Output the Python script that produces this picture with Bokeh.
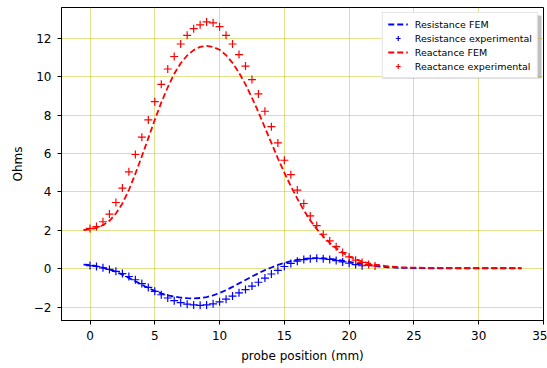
from bokeh.plotting import figure
from bokeh.models import FixedTicker, Legend, LegendItem, BoxAnnotation
from bokeh.embed import file_html
from bokeh.resources import INLINE

# ---- data ----
x_fem = [-0.5, 0.0, 0.5, 1.0, 1.5, 2.0, 2.5, 3.0, 3.5, 4.0, 4.5, 5.0, 5.5, 6.0, 6.5,
         7.0, 7.5, 8.0, 8.5, 9.0, 9.5, 10.0, 10.5, 11.0, 11.5, 12.0, 12.5, 13.0, 13.5,
         14.0, 14.5, 15.0, 15.5, 16.0, 16.5, 17.0, 17.5, 18.0, 18.5, 19.0, 19.5, 20.0,
         20.5, 21.0, 21.5, 22.0, 23.0, 24.0, 25.0, 26.0, 27.0, 28.0, 29.0, 30.0, 31.0,
         32.0, 33.3]

resistance_fem = [0.22, 0.20, 0.14, 0.06, -0.03, -0.15, -0.30, -0.47, -0.65, -0.83, -1.00,
                  -1.15, -1.28, -1.38, -1.45, -1.50, -1.53, -1.54, -1.52, -1.47, -1.38,
                  -1.26, -1.11, -0.94, -0.76, -0.58, -0.40, -0.23, -0.07, 0.07, 0.20,
                  0.31, 0.40, 0.47, 0.52, 0.55, 0.56, 0.55, 0.52, 0.48, 0.42, 0.36,
                  0.30, 0.24, 0.19, 0.14, 0.08, 0.05, 0.04, 0.03, 0.03, 0.03, 0.03,
                  0.03, 0.03, 0.03, 0.03]

reactance_fem = [2.02, 2.05, 2.13, 2.27, 2.50, 2.88, 3.40, 4.10, 4.95, 5.85, 6.80,
                 7.75, 8.65, 9.45, 10.15, 10.70, 11.10, 11.38, 11.55, 11.60, 11.55,
                 11.40, 11.12, 10.72, 10.20, 9.60, 8.90, 8.15, 7.35, 6.55, 5.75,
                 5.00, 4.30, 3.65, 3.05, 2.52, 2.07, 1.68, 1.35, 1.07, 0.84, 0.65,
                 0.50, 0.38, 0.29, 0.22, 0.13, 0.08, 0.06, 0.05, 0.05, 0.04, 0.04,
                 0.04, 0.04, 0.04, 0.04]

x_res_exp = [0.0, 0.5, 1.0, 1.5, 2.0, 2.5, 3.0, 3.5, 4.0, 4.5, 5.0, 5.5, 6.0, 6.5, 7.0,
             7.5, 8.0, 8.5, 9.0, 9.5, 10.0, 10.5, 11.0, 11.5, 12.0, 12.5, 13.0, 13.5,
             14.0, 14.5, 15.0, 15.5, 16.0, 16.5, 17.0, 17.5, 18.0, 18.5, 19.0, 19.5,
             20.0, 20.5, 21.0]
resistance_exp = [0.17, 0.12, 0.05, -0.03, -0.13, -0.25, -0.40, -0.57, -0.77, -0.97,
                  -1.17, -1.35, -1.52, -1.66, -1.76, -1.84, -1.88, -1.90, -1.88, -1.82,
                  -1.72, -1.58, -1.42, -1.25, -1.08, -0.90, -0.70, -0.48, -0.27, -0.08,
                  0.12, 0.28, 0.40, 0.48, 0.53, 0.55, 0.53, 0.49, 0.43, 0.36, 0.29,
                  0.22, 0.16]

x_rea_exp = [0.0, 0.5, 1.0, 1.5, 2.0, 2.5, 3.0, 3.5, 4.0, 4.5, 5.0, 5.5, 6.0, 6.5, 7.0,
             7.5, 8.0, 8.5, 9.0, 9.5, 10.0, 10.5, 11.0, 11.5, 12.0, 12.5, 13.0, 13.5,
             14.0, 14.5, 15.0, 15.5, 16.0, 16.5, 17.0, 17.5, 18.0, 18.5, 19.0, 19.5,
             20.0, 20.5, 21.0, 21.5, 22.0]
reactance_exp = [2.10, 2.20, 2.45, 2.85, 3.45, 4.20, 5.05, 5.95, 6.85, 7.75, 8.70,
                 9.60, 10.40, 11.05, 11.70, 12.15, 12.50, 12.70, 12.85, 12.80, 12.60,
                 12.15, 11.70, 11.15, 10.55, 9.85, 9.10, 8.20, 7.40, 6.55, 5.65, 4.90,
                 4.10, 3.40, 2.75, 2.25, 1.80, 1.45, 1.15, 0.85, 0.62, 0.45, 0.33,
                 0.22, 0.15]

x_ticks = [0, 5, 10, 15, 20, 25, 30, 35]
y_ticks = [-2, 0, 2, 4, 6, 8, 10, 12]

FONT = "DejaVu Sans"

p = figure(width=547, height=368, output_backend="svg", toolbar_location=None,
           x_range=(-2.2, 35.0), y_range=(-2.69, 13.6),
           min_border_left=61, min_border_right=4, min_border_top=7,
           min_border_bottom=48)
p.background_fill_color = "white"
p.border_fill_color = "white"
p.outline_line_color = "black"
p.outline_line_width = 1

# legend shadow (screen units are relative to the frame, y measured upward)
shadow = BoxAnnotation(left=321, right=480, top=305, bottom=242,
                       left_units="screen", right_units="screen",
                       top_units="screen", bottom_units="screen",
                       fill_color="#808080", fill_alpha=0.5, line_color=None,
                       level="underlay")
p.add_layout(shadow)

r1 = p.line(x_fem, resistance_fem, line_color="blue", line_width=1.8, line_dash="6 3")
r2 = p.scatter(x_res_exp, resistance_exp, marker="cross", size=8,
               line_color="blue", line_width=1.2)
r3 = p.line(x_fem, reactance_fem, line_color="red", line_width=1.8, line_dash="6 3")
r4 = p.scatter(x_rea_exp, reactance_exp, marker="cross", size=8,
               line_color="red", line_width=1.2)

p.xaxis.ticker = FixedTicker(ticks=x_ticks)
p.yaxis.ticker = FixedTicker(ticks=y_ticks)
p.yaxis.major_label_overrides = {-2: "\u22122"}
p.xaxis.axis_label = "probe position (mm)"
p.yaxis.axis_label = "Ohms"
for ax in (p.xaxis[0], p.yaxis[0]):
    ax.axis_line_color = "black"
    ax.major_tick_line_color = "black"
    ax.major_tick_out = 4
    ax.major_tick_in = 0
    ax.minor_tick_line_color = None
    ax.major_label_text_font = FONT
    ax.major_label_text_font_size = "12px"
    ax.major_label_text_color = "black"
    ax.axis_label_text_font = FONT
    ax.axis_label_text_font_size = "12px"
    ax.axis_label_text_font_style = "normal"
    ax.axis_label_text_color = "black"
    ax.major_label_standoff = 6
    ax.axis_label_standoff = 6

p.grid.grid_line_color = "#bfbf00"
p.grid.grid_line_alpha = 0.45
p.grid.grid_line_width = 1

legend = Legend(items=[
    LegendItem(label="Resistance FEM", renderers=[r1]),
    LegendItem(label="Resistance experimental", renderers=[r2]),
    LegendItem(label="Reactance FEM", renderers=[r3]),
    LegendItem(label="Reactance experimental", renderers=[r4]),
], location="top_right")
legend.label_text_font = FONT
legend.label_text_font_size = "9.5px"
legend.label_text_color = "black"
legend.glyph_width = 20
legend.glyph_height = 12
legend.label_height = 12
legend.spacing = 2
legend.padding = 5
legend.margin = 5
legend.label_standoff = 7
legend.border_line_color = "#cccccc"
legend.border_line_width = 1
legend.background_fill_color = "white"
legend.background_fill_alpha = 1.0
p.add_layout(legend)

open("out.html", "w").write(file_html(p, INLINE))
